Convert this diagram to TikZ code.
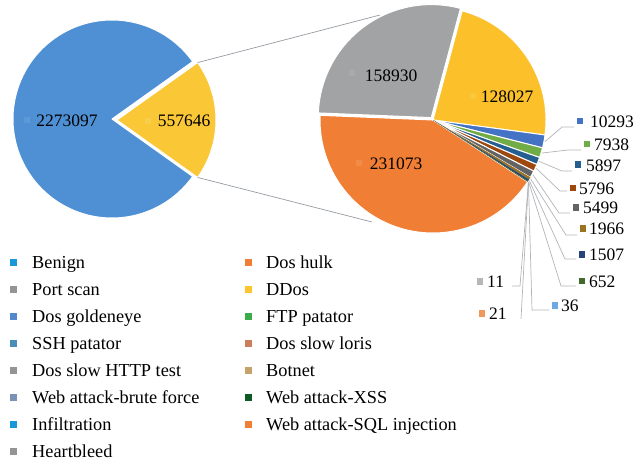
\documentclass[tikz,border=0pt]{standalone}
\usepackage{fontspec}
\setmainfont{Liberation Serif}

% slice colours of the two pies
\definecolor{pBlue}{RGB}{78,144,211}
\definecolor{pGold}{RGB}{250,199,55}
\definecolor{pGray}{RGB}{162,163,165}
\definecolor{pYellow}{RGB}{252,193,42}
\definecolor{pOrange}{RGB}{240,126,52}
\definecolor{sGolden}{RGB}{68,114,196}
\definecolor{sFtp}{RGB}{112,173,71}
\definecolor{sSsh}{RGB}{37,94,145}
\definecolor{sLoris}{RGB}{158,72,14}
\definecolor{sHttp}{RGB}{99,99,99}
\definecolor{sBot}{RGB}{153,115,30}
\definecolor{sBrute}{RGB}{38,68,120}
\definecolor{sXss}{RGB}{67,104,43}
\definecolor{sInf}{RGB}{110,170,225}
\definecolor{sSql}{RGB}{241,151,90}
\definecolor{sHeart}{RGB}{183,183,183}
% legend key colours
\definecolor{kBenign}{RGB}{24,152,214}
\definecolor{kGray}{RGB}{148,148,148}
\definecolor{kGolden}{RGB}{82,136,205}
\definecolor{kSsh}{RGB}{72,142,182}
\definecolor{kBrute}{RGB}{122,146,182}
\definecolor{kHulk}{RGB}{240,126,52}
\definecolor{kDdos}{RGB}{252,196,45}
\definecolor{kFtp}{RGB}{58,172,76}
\definecolor{kLoris}{RGB}{202,126,92}
\definecolor{kBot}{RGB}{196,162,106}
\definecolor{kXss}{RGB}{14,90,36}
% line colours
\definecolor{leadgray}{RGB}{178,180,184}
\definecolor{zoomgray}{RGB}{150,155,162}

% one wedge: centre, start angle, end angle, radius, fill colour
\newcommand\pieslice[5]{%
  \filldraw[fill=#5, sep] (#1) -- ++(#2:#4) arc[start angle=#2, end angle=#3, radius=#4] -- cycle;}

\begin{document}
\begin{tikzpicture}[x=1pt,y=1pt,
  every node/.style={font=\fontsize{17.5}{20}\selectfont, inner sep=0pt, text=black},
  num/.style={anchor=base west},
  ctr/.style={anchor=base},
  legtext/.style={anchor=base west, font=\fontsize{18.3}{21}\selectfont},
  key/.style={minimum size=6.5pt, inner sep=0pt, draw=none, fill=#1},
  lkey/.style={minimum size=7pt, inner sep=0pt, draw=none, fill=#1},
  leader/.style={draw=leadgray, line width=0.7pt},
  zoomline/.style={draw=zoomgray, line width=0.7pt},
  sep/.style={draw=white, line width=1pt, line join=round}]

\useasboundingbox (0,0) rectangle (634,-466);

% ---------- first pie: benign vs. attacks ----------
\coordinate (A)  at (112,-119);
\coordinate (Ay) at (117,-120);
\pieslice{A}{35.46}{324.54}{99}{pBlue}
\pieslice{Ay}{-35.46}{35.46}{99}{pGold}

\node[key=pBlue!92!white] (kA1) at (27,-120) {};
\node[ctr] (tA1) at (67,-126) {2273097};
\node[key=pGold!90!white] (kA2) at (148,-121) {};
\node[ctr] (tA2) at (184,-126) {557646};

% ---------- second pie: the attack classes ----------
\coordinate (B) at (433,-120);
\coordinate (Bg) at ([shift={(126.3:3)}]B);
\pieslice{B}{-33.20}{-182.37}{113}{pOrange}
\pieslice{Bg}{177.63}{75.03}{113}{pGray}
\pieslice{B}{75.03}{-7.62}{113}{pYellow}
\pieslice{B}{-7.62}{-14.27}{113}{sGolden}
\pieslice{B}{-14.27}{-19.39}{113}{sFtp}
\pieslice{B}{-19.39}{-23.20}{113}{sSsh}
\pieslice{B}{-23.20}{-26.94}{113}{sLoris}
\pieslice{B}{-26.94}{-30.49}{113}{sHttp}
\fill[sBot] (B) -- ++(-30.49:113) arc[start angle=-30.49, end angle=-31.76, radius=113] -- cycle;
\fill[sBrute] (B) -- ++(-31.76:113) arc[start angle=-31.76, end angle=-32.73, radius=113] -- cycle;
\fill[sXss] (B) -- ++(-32.73:113) arc[start angle=-32.73, end angle=-33.15, radius=113] -- cycle;

\node[key=pGray!92!white] (kB1) at (352,-73) {};
\node[ctr] (tB1) at (391,-81) {158930};
\node[key=pYellow!90!white] (kB2) at (473,-96) {};
\node[ctr] (tB2) at (507,-102) {128027};
\node[key=pOrange!90!white] (kB3) at (359,-163) {};
\node[ctr] (tB3) at (396,-169) {231073};

% ---------- zoom connectors ----------
\coordinate (yt) at ([shift={(35.46:99)}]Ay);
\coordinate (yb) at ([shift={(-35.46:99)}]Ay);
\coordinate (zt) at (380,-15);
\coordinate (zb) at (372,-222);
\draw[zoomline] (yt) -- (zt);
\draw[zoomline] (yb) -- (zb);

% ---------- outside labels of the small slices ----------
\coordinate (s1)  at ([shift={(-10.95:114)}]B);
\coordinate (s2)  at ([shift={(-16.83:114)}]B);
\coordinate (s3)  at ([shift={(-21.30:114)}]B);
\coordinate (s4)  at ([shift={(-25.07:114)}]B);
\coordinate (s5)  at ([shift={(-28.72:114)}]B);
\coordinate (s6)  at ([shift={(-31.13:114)}]B);
\coordinate (s7)  at ([shift={(-32.25:114)}]B);
\coordinate (s8)  at ([shift={(-32.94:114)}]B);
\coordinate (s9)  at ([shift={(-33.16:114)}]B);
\coordinate (s10) at ([shift={(-33.18:114)}]B);
\coordinate (s11) at ([shift={(-33.19:114)}]B);

\node[key=sGolden] (m1) at (580,-121) {};
\node[num] (n1) at (590,-127) {10293};
\node[key=sFtp] (m2) at (587,-144) {};
\node[num] (n2) at (594,-150.5) {7938};
\node[key=sSsh] (m3) at (578,-164.5) {};
\node[num] (n3) at (586,-171) {5897};
\node[key=sLoris] (m4) at (573,-188) {};
\node[num] (n4) at (579,-194) {5796};
\node[key=sHttp] (m5) at (576,-207.5) {};
\node[num] (n5) at (583,-213.5) {5499};
\node[key=sBot] (m6) at (583,-228.5) {};
\node[num] (n6) at (589,-234.5) {1966};
\node[key=sBrute] (m7) at (582,-254.5) {};
\node[num] (n7) at (589,-260.5) {1507};
\node[key=sXss] (m8) at (582,-281) {};
\node[num] (n8) at (589,-287) {652};
\node[key=sInf] (m9) at (555,-305.5) {};
\node[num] (n9) at (561,-311.5) {36};
\node[key=sSql] (m10) at (482,-313.5) {};
\node[num] (n10) at (489,-319.5) {21};
\node[key=sHeart] (m11) at (480,-281.5) {};
\node[num] (n11) at (487,-287.5) {11};

\draw[leader] (s1) -- (562,-127) -- (574,-127);
\draw[leader] (s2) -- (568,-150) -- (581,-150);
\draw[leader] (s3) -- (562,-171) -- (572,-171);
\draw[leader] (s4) -- (560,-191) -- (567,-191);
\draw[leader] (s5) -- (559,-213) -- (570,-213);
\draw[leader] (s6) -- (566,-235) -- (577,-235);
\draw[leader] (s7) -- (565,-259) -- (576,-259);
\draw[leader] (s8) -- (561,-286) -- (576,-286);
\draw[leader] (s9) -- (532,-310) -- (549,-310);
\draw[leader] (s10) -- (521,-319);
\draw[leader] (s11) -- (520,-286) -- (512,-286);

% ---------- legend ----------
\foreach \i/\c/\t in {0/kBenign/Benign, 1/kGray/Port scan, 2/kGolden/Dos goldeneye,
    3/kSsh/SSH patator, 4/kGray/Dos slow HTTP test, 5/kBrute/Web attack-brute force,
    6/kBenign/Infiltration, 7/kGray/Heartbleed} {
  \node[lkey=\c] (la\i) at (13.5,{-262.5-27*\i}) {};
  \node[legtext] (ta\i) at (32,{-268-27*\i}) {\t};
}
\foreach \i/\c/\t in {0/kHulk/Dos hulk, 1/kDdos/DDos, 2/kFtp/FTP patator,
    3/kLoris/Dos slow loris, 4/kBot/Botnet, 5/kXss/Web attack-XSS,
    6/kHulk/Web attack-SQL injection} {
  \node[lkey=\c] (lb\i) at (248.5,{-262.5-27*\i}) {};
  \node[legtext] (tb\i) at (266,{-268-27*\i}) {\t};
}
\end{tikzpicture}
\end{document}
